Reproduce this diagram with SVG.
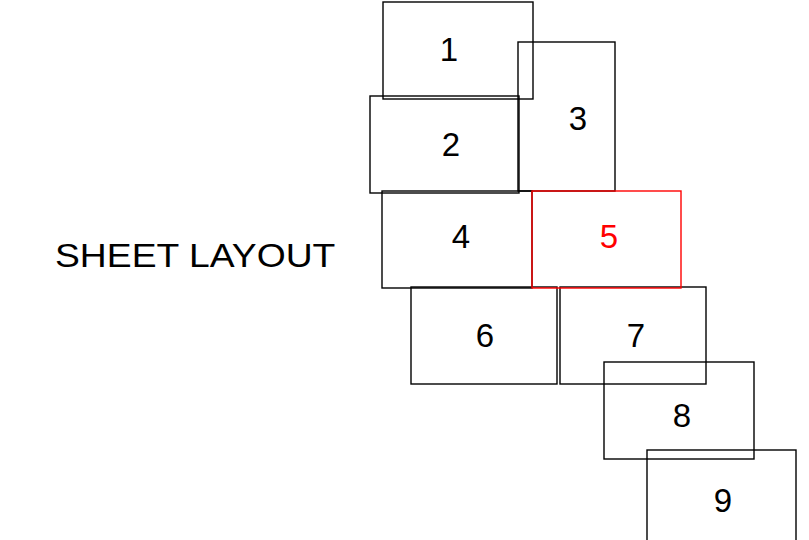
<svg xmlns="http://www.w3.org/2000/svg" width="809" height="540" viewBox="0 0 809 540">
<style>
rect{fill:none;stroke:#000;stroke-width:1.4}
text{font-family:"Liberation Sans",Arial,sans-serif;font-size:33px;fill:#000;text-anchor:middle}
.sel rect{stroke:#f00}
.sel text{fill:#f00}
</style>
<rect x="0" y="0" width="809" height="540" style="fill:#fff;stroke:none"/>
<text transform="translate(55 267) scale(1.13 1)" x="0" y="0" style="text-anchor:start">SHEET LAYOUT</text>
<g id="n1"><rect x="383" y="2" width="150" height="97"/><text x="449" y="61">1</text></g>
<g id="n3"><rect x="518" y="42" width="97" height="149"/><text x="578" y="130">3</text></g>
<g id="n2"><rect x="370" y="96" width="149" height="97"/><text x="451" y="156">2</text></g>
<g id="n4"><rect x="382" y="191" width="150" height="97"/><text x="461" y="248">4</text></g>
<g id="n6"><rect x="411" y="287" width="146" height="97"/><text x="485" y="347">6</text></g>
<g id="n7"><rect x="560" y="287" width="146" height="97"/><text x="636" y="347">7</text></g>
<g id="n8"><rect x="604" y="362" width="150" height="97"/><text x="682" y="427">8</text></g>
<g id="n9"><rect x="647" y="450" width="149" height="100"/><text x="723" y="512">9</text></g>
<g id="n5" class="sel"><rect x="532" y="191" width="149" height="97"/><text x="609" y="248">5</text></g>
<g id="connectors"/>
</svg>
